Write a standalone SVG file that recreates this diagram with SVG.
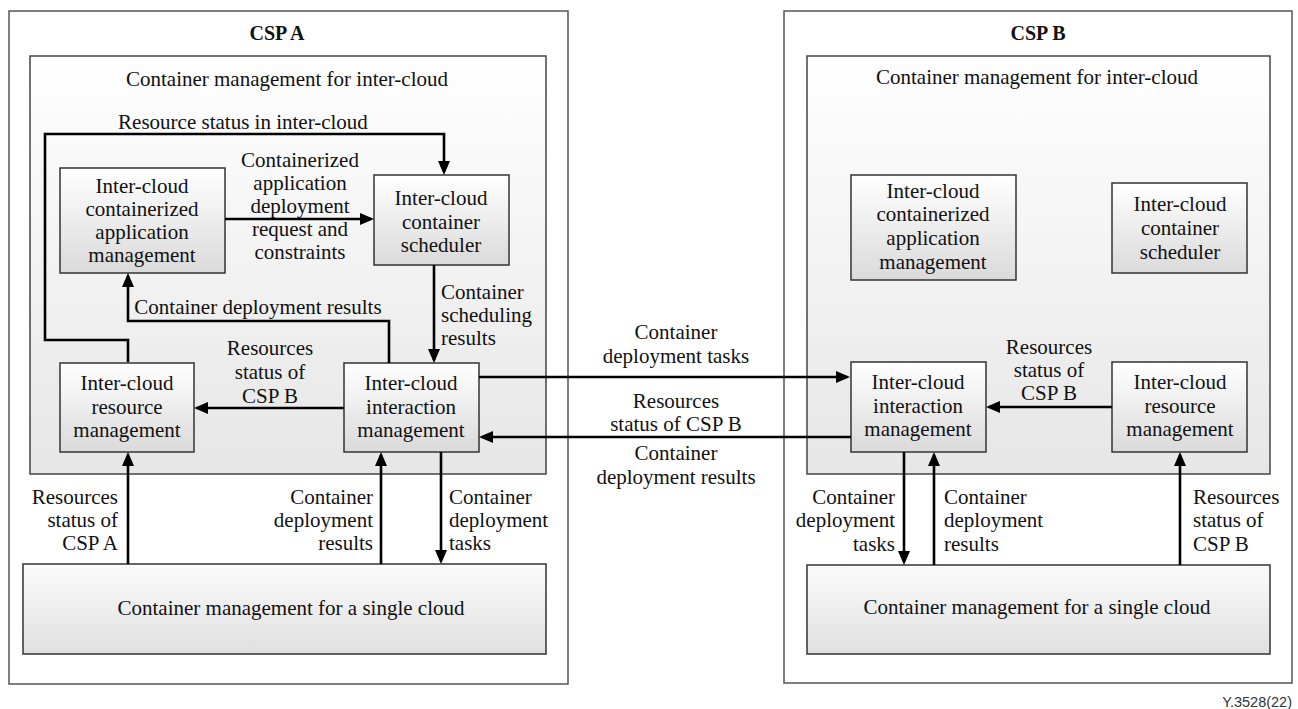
<svg xmlns="http://www.w3.org/2000/svg" width="1298" height="709" viewBox="0 0 1298 709">
<style>
text{font-family:"Liberation Serif","Times New Roman",serif;font-size:21px;fill:#111}
.c{text-anchor:middle}
.r{text-anchor:end}
.b{font-weight:bold;font-size:20px}
.outer{fill:#fff;stroke:#555;stroke-width:1.5}
.inner{fill:url(#gInner);stroke:#444;stroke-width:1.5}
.box{fill:url(#gBox);stroke:#333;stroke-width:1.5}
.single{fill:url(#gSingle);stroke:#333;stroke-width:1.5}
.ln{fill:none;stroke:#000;stroke-width:2.6;marker-end:url(#ah)}
.note{font-family:"Liberation Sans",Arial,sans-serif;font-size:14.5px;fill:#333}
</style>
<defs>
<linearGradient id="gInner" x1="0" y1="0" x2="0" y2="1"><stop offset="0" stop-color="#ffffff"/><stop offset="1" stop-color="#e6e6e6"/></linearGradient>
<linearGradient id="gBox" x1="0" y1="0" x2="0" y2="1"><stop offset="0" stop-color="#ffffff"/><stop offset="1" stop-color="#dadada"/></linearGradient>
<linearGradient id="gSingle" x1="0" y1="0" x2="0" y2="1"><stop offset="0" stop-color="#fbfbfb"/><stop offset="1" stop-color="#e0e0e0"/></linearGradient>
<marker id="ah" markerWidth="14" markerHeight="12" refX="11" refY="6" orient="auto" markerUnits="userSpaceOnUse"><path d="M0,0 L14,6 L0,12 z" fill="#000"/></marker>
</defs>

<g id="cspA">
<rect class="outer" x="9" y="11" width="559" height="673"/>
<text class="c b" x="277" y="40">CSP A</text>
</g>
<g id="interA">
<rect class="inner" x="30" y="56" width="516" height="418"/>
<text class="c" x="287" y="86">Container management for inter-cloud</text>
</g>
<g id="appA">
<rect class="box" x="60" y="168" width="165" height="105"/>
<text class="c" x="142" y="193">Inter-cloud</text>
<text class="c" x="142" y="216">containerized</text>
<text class="c" x="142" y="239">application</text>
<text class="c" x="142" y="262">management</text>
</g>
<g id="schedA">
<rect class="box" x="374" y="175" width="135" height="90"/>
<text class="c" x="441" y="205">Inter-cloud</text>
<text class="c" x="441" y="229">container</text>
<text class="c" x="441" y="252">scheduler</text>
</g>
<g id="resA">
<rect class="box" x="60" y="363" width="134" height="89"/>
<text class="c" x="127" y="390">Inter-cloud</text>
<text class="c" x="127" y="414">resource</text>
<text class="c" x="127" y="437">management</text>
</g>
<g id="interactA">
<rect class="box" x="344" y="363" width="135" height="89"/>
<text class="c" x="411" y="390">Inter-cloud</text>
<text class="c" x="411" y="414">interaction</text>
<text class="c" x="411" y="437">management</text>
</g>
<g id="singleA">
<rect class="single" x="23" y="564" width="523" height="90"/>
<text class="c" x="291" y="615">Container management for a single cloud</text>
</g>

<g id="cspB">
<rect class="outer" x="784" y="11" width="508" height="672"/>
<text class="c b" x="1038" y="40">CSP B</text>
</g>
<g id="interB">
<rect class="inner" x="807" y="56" width="463" height="418"/>
<text class="c" x="1037" y="84">Container management for inter-cloud</text>
</g>
<g id="appB">
<rect class="box" x="851" y="175" width="165" height="105"/>
<text class="c" x="933" y="198">Inter-cloud</text>
<text class="c" x="933" y="221">containerized</text>
<text class="c" x="933" y="245">application</text>
<text class="c" x="933" y="269">management</text>
</g>
<g id="schedB">
<rect class="box" x="1112" y="183" width="135" height="90"/>
<text class="c" x="1180" y="211">Inter-cloud</text>
<text class="c" x="1180" y="235">container</text>
<text class="c" x="1180" y="259">scheduler</text>
</g>
<g id="interactB">
<rect class="box" x="851" y="362" width="135" height="90"/>
<text class="c" x="918" y="389">Inter-cloud</text>
<text class="c" x="918" y="413">interaction</text>
<text class="c" x="918" y="436">management</text>
</g>
<g id="resB">
<rect class="box" x="1112" y="362" width="135" height="90"/>
<text class="c" x="1180" y="389">Inter-cloud</text>
<text class="c" x="1180" y="413">resource</text>
<text class="c" x="1180" y="436">management</text>
</g>
<g id="singleB">
<rect class="single" x="807" y="565" width="463" height="89"/>
<text class="c" x="1037" y="614">Container management for a single cloud</text>
</g>

<g id="connectors">
<path class="ln" d="M128,362 V340 H45 V134 H444 V172"/>
<path class="ln" d="M225,219 H371"/>
<path class="ln" d="M389,363 V321 H128 V276"/>
<path class="ln" d="M434,265 V360"/>
<path class="ln" d="M344,408 H197"/>
<path class="ln" d="M128,564 V455"/>
<path class="ln" d="M381,564 V455"/>
<path class="ln" d="M441,452 V561"/>
<path class="ln" d="M479,377 H847"/>
<path class="ln" d="M851,437 H482"/>
<path class="ln" d="M1112,407 H989"/>
<path class="ln" d="M904,452 V562"/>
<path class="ln" d="M934,565 V455"/>
<path class="ln" d="M1180,565 V455"/>
</g>

<g id="labels">
<text class="c" x="243" y="129">Resource status in inter-cloud</text>
<text class="c" x="300" y="167">Containerized</text>
<text class="c" x="300" y="190">application</text>
<text class="c" x="300" y="213">deployment</text>
<text class="c" x="300" y="236">request and</text>
<text class="c" x="300" y="259">constraints</text>
<text class="c" x="258" y="314">Container deployment results</text>
<text x="441" y="299">Container</text>
<text x="441" y="322">scheduling</text>
<text x="441" y="345">results</text>
<text class="c" x="270" y="355">Resources</text>
<text class="c" x="270" y="379">status of</text>
<text class="c" x="270" y="403">CSP B</text>
<text class="r" x="118" y="504">Resources</text>
<text class="r" x="118" y="527">status of</text>
<text class="r" x="118" y="550">CSP A</text>
<text class="r" x="373" y="504">Container</text>
<text class="r" x="373" y="527">deployment</text>
<text class="r" x="373" y="550">results</text>
<text x="449" y="504">Container</text>
<text x="449" y="527">deployment</text>
<text x="449" y="550">tasks</text>
<text class="c" x="676" y="339">Container</text>
<text class="c" x="676" y="363">deployment tasks</text>
<text class="c" x="676" y="408">Resources</text>
<text class="c" x="676" y="431">status of CSP B</text>
<text class="c" x="676" y="460">Container</text>
<text class="c" x="676" y="484">deployment results</text>
<text class="c" x="1049" y="354">Resources</text>
<text class="c" x="1049" y="377">status of</text>
<text class="c" x="1049" y="400">CSP B</text>
<text class="r" x="895" y="504">Container</text>
<text class="r" x="895" y="527">deployment</text>
<text class="r" x="895" y="551">tasks</text>
<text x="944" y="504">Container</text>
<text x="944" y="527">deployment</text>
<text x="944" y="551">results</text>
<text x="1193" y="504">Resources</text>
<text x="1193" y="527">status of</text>
<text x="1193" y="551">CSP B</text>
<text class="note r" x="1292" y="707">Y.3528(22)</text>
</g>
</svg>
